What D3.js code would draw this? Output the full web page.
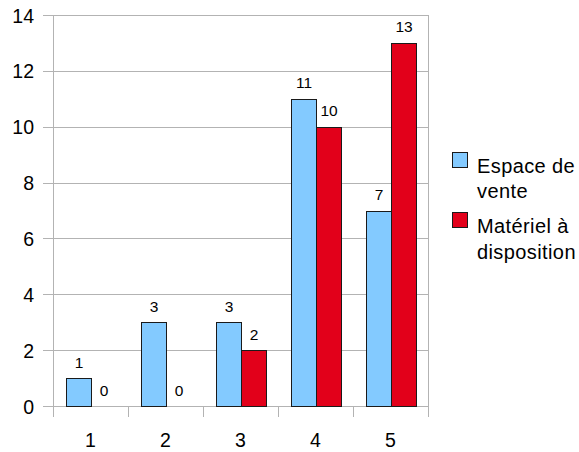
<!DOCTYPE html>
<html><head><meta charset="utf-8">
<script src="https://cdn.jsdelivr.net/npm/d3@7"></script>
<style>body{margin:0;background:#fff} text{font-family:"Liberation Sans", Arial, Helvetica, sans-serif;}</style>
</head><body>
<svg id="c" width="579" height="452"></svg>
<script>
const categories = ["1","2","3","4","5"];
const seriesNames = ["Espace de vente","Matériel à disposition"];
const espace = [1,3,3,11,7];
const materiel = [0,0,2,10,13];
const yTicks = [0,2,4,6,8,10,12,14];
const colors = ["#83caff","#e2001a"];

(function(){
const svg = d3.select("#c");
const pLeft = 53, pRight = 428, pTop = 15, pBottom = 406;
const x = d3.scaleBand().domain(categories).range([pLeft, pRight]);
const y = d3.scaleLinear().domain([0,14]).range([pBottom, pTop]);
const inner = d3.scaleBand().domain([0,1]).range([0, 50]);
const grid = "#b3b3b3";

svg.append("g").selectAll("line").data(yTicks).join("line")
  .attr("x1", pLeft-10).attr("x2", pRight)
  .attr("y1", d=>Math.round(y(d))+0.5).attr("y2", d=>Math.round(y(d))+0.5)
  .attr("stroke", grid).attr("stroke-width",1);
svg.append("line").attr("x1",pLeft+0.5).attr("x2",pLeft+0.5).attr("y1",pTop).attr("y2",pBottom+11).attr("stroke",grid);
svg.append("line").attr("x1",pRight+0.5).attr("x2",pRight+0.5).attr("y1",pTop).attr("y2",pBottom+11).attr("stroke",grid);
const bounds = categories.slice(1).map(c=>x(c));
svg.append("g").selectAll("line").data(bounds).join("line")
  .attr("x1",d=>Math.round(d)+0.5).attr("x2",d=>Math.round(d)+0.5)
  .attr("y1",pBottom).attr("y2",pBottom+11).attr("stroke",grid);

svg.append("g").selectAll("text").data(yTicks).join("text")
  .attr("x", 34).attr("y", d=>y(d)+7.5).attr("text-anchor","end")
  .attr("font-size",19.5).attr("fill","#000").text(d=>d);
svg.append("g").selectAll("text").data(categories).join("text")
  .attr("x", d=>x(d)+x.bandwidth()/2).attr("y", 446.5).attr("text-anchor","middle")
  .attr("font-size",19.5).attr("fill","#000").text(d=>d);

const series = [espace, materiel];
series.forEach((vals, si) => {
  const g = svg.append("g");
  g.selectAll("rect").data(vals).join("rect")
    .attr("x", (d,i)=>Math.round(x(categories[i]) + 13 + inner(si)) + 0.5)
    .attr("y", d=>Math.round(y(d))+0.5)
    .attr("width", inner.bandwidth())
    .attr("height", d=>Math.max(0, Math.round(y(0))-Math.round(y(d))))
    .attr("fill", colors[si]).attr("stroke", d=>d>0?"#1a1a1a":"none").attr("stroke-width",1);
  g.selectAll("text").data(vals).join("text")
    .attr("x", (d,i)=>x(categories[i]) + 13 + inner(si) + inner.bandwidth()/2 + 0.5)
    .attr("y", d=>y(d)-10.5)
    .attr("text-anchor","middle").attr("font-size",15.5).attr("fill","#000")
    .text(d=>d);
});

const leg = [
  {lines:["Espace de","vente"], y:152, base:[173,198]},
  {lines:["Matériel à","disposition"], y:212, base:[233,259]}
];
leg.forEach((l,i)=>{
  svg.append("rect").attr("x",452.5).attr("y",l.y+0.5).attr("width",15).attr("height",15)
    .attr("fill",colors[i]).attr("stroke","#1a1a1a");
  l.lines.forEach((t,j)=>{
    svg.append("text").attr("x",477).attr("y",l.base[j])
      .attr("font-size",20).attr("letter-spacing",0.4).attr("fill","#000").text(t);
  });
});
})();
</script>
</body></html>
